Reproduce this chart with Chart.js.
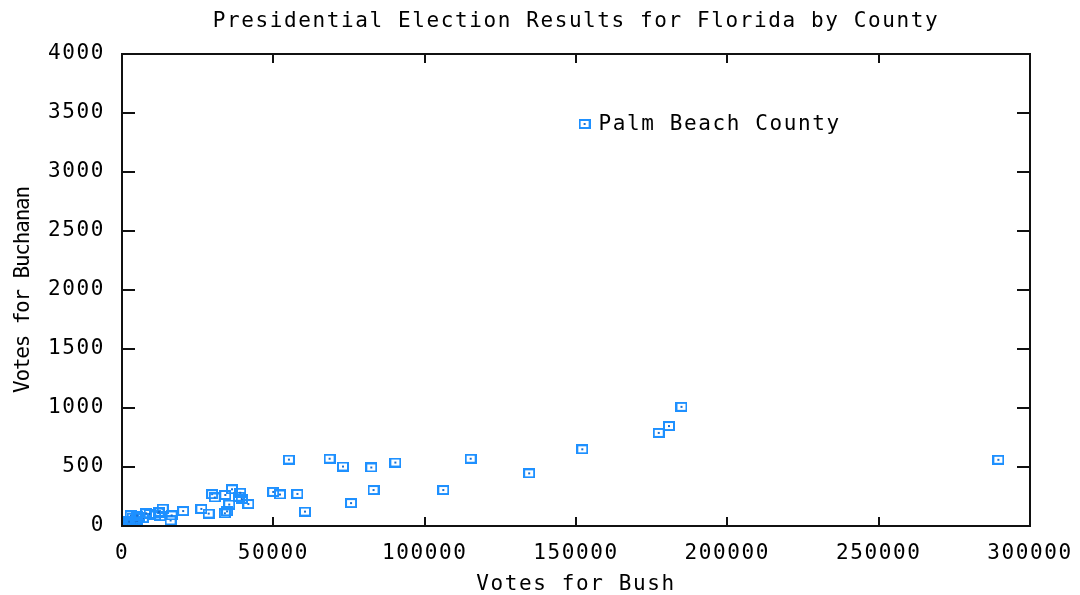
<!DOCTYPE html>
<html>
<head>
<meta charset="utf-8">
<script src="https://cdn.jsdelivr.net/npm/chart.js@4/dist/chart.umd.min.js"></script>
<style>
  html, body { margin: 0; padding: 0; background: #fff; }
  #wrap { width: 1080px; height: 595px; position: relative; }
</style>
</head>
<body>
<div id="wrap"><canvas id="c"></canvas></div>
<script>
// ---- Data (Florida 2000, by county) ----
const countyNames = ["Alachua","Baker","Bay","Bradford","Brevard","Broward","Calhoun","Charlotte","Citrus","Clay","Collier","Columbia","Dade","De Soto","Dixie","Duval","Escambia","Flagler","Franklin","Gadsden","Gilchrist","Glades","Gulf","Hamilton","Hardee","Hendry","Hernando","Highlands","Hillsborough","Holmes","Indian River","Jackson","Jefferson","Lafayette","Lake","Lee","Leon","Levy","Liberty","Madison","Manatee","Marion","Martin","Monroe","Nassau","Okaloosa","Okeechobee","Orange","Osceola","Palm Beach","Pasco","Pinellas","Polk","Putnam","St. Johns","St. Lucie","Santa Rosa","Sarasota","Seminole","Sumter","Suwannee","Taylor","Union","Volusia","Wakulla","Walton","Washington"];
const bushVotes = [34124,5610,38637,5414,115185,177323,2873,35426,29767,41736,60450,10964,289533,4256,2697,152082,73017,12613,2454,4767,3300,1841,3550,2146,3765,4747,30646,20206,180713,5011,28635,9138,2481,1669,49963,106141,39053,6858,1317,3038,57948,55135,33972,16059,16404,52186,5057,134517,26212,152846,68582,184846,90310,13457,39564,34705,36339,83100,75677,12127,8006,4051,2326,82357,4512,12182,4994];
const buchananVotes = [263,73,248,65,570,789,90,182,270,186,122,89,561,36,29,650,504,83,33,38,29,9,71,23,30,22,242,127,847,76,105,102,29,10,289,305,282,67,39,29,272,563,108,47,90,267,43,446,145,3407,570,1010,538,147,229,124,311,305,194,114,108,27,37,496,46,120,88];
const labelledCounty = "Palm Beach";
const labelText = "Palm Beach County";
const titleText = "Presidential Election Results for Florida by County";
const xTitle = "Votes for Bush";
const yTitle = "Votes for Buchanan";
const xTicks = { min: 0, max: 300000, step: 50000 };
const yTicks = { min: 0, max: 4000, step: 500 };

const points = bushVotes.map((b, i) => ({ x: b, y: buchananVotes[i] }));

const BLUE = '#1e90ff';
const FONT = "'DejaVu Sans Mono', 'Liberation Mono', monospace";
const FS = 21;
const SPACING = '1.6px';

function makeMarker() {
  const c = document.createElement('canvas');
  c.width = 12; c.height = 10;
  const g = c.getContext('2d');
  g.strokeStyle = BLUE;
  g.lineWidth = 2;
  g.strokeRect(1, 1, 10, 8);
  g.fillStyle = '#1a6fd0';
  g.fillRect(5, 4, 2, 2);
  return c;
}
const marker = makeMarker();

const spacingPlugin = {
  id: 'spacing',
  beforeUpdate(chart) { chart.ctx.letterSpacing = SPACING; },
  beforeLayout(chart) { chart.ctx.letterSpacing = SPACING; },
  beforeDraw(chart) { chart.ctx.letterSpacing = SPACING; },
  afterLayout(chart) {
    // centre the title over the plot area
    const tb = chart.titleBlock;
    if (tb) {
      tb.left = chart.chartArea.left;
      tb.right = chart.chartArea.right;
      tb.width = tb.right - tb.left;
    }
  },
  afterUpdate(chart) {
    const ys = chart.scales.y;
    if (ys && !ys._lsPatched) {
      const orig = ys.drawTitle;
      ys.drawTitle = function (...a) {
        const c = this.ctx;
        const prev = c.letterSpacing;
        c.letterSpacing = '-1.2px';
        orig.apply(this, a);
        c.letterSpacing = prev;
      };
      ys._lsPatched = true;
    }
  }
};

const framePlugin = {
  id: 'frame',
  afterDatasetsDraw(chart) {
    const { ctx, chartArea: a, scales } = chart;
    ctx.save();
    ctx.strokeStyle = '#111';
    ctx.lineWidth = 2;
    ctx.beginPath();
    scales.x.ticks.forEach(t => {
      const px = Math.round(scales.x.getPixelForValue(t.value));
      ctx.moveTo(px, a.bottom); ctx.lineTo(px, a.bottom - 9);
      ctx.moveTo(px, a.top); ctx.lineTo(px, a.top + 9);
    });
    scales.y.ticks.forEach(t => {
      const py = Math.round(scales.y.getPixelForValue(t.value));
      ctx.moveTo(a.left, py); ctx.lineTo(a.left + 13, py);
      ctx.moveTo(a.right, py); ctx.lineTo(a.right - 13, py);
    });
    ctx.stroke();
    ctx.strokeRect(a.left, a.top, a.right - a.left, a.bottom - a.top);
    ctx.restore();
  }
};

const labelPlugin = {
  id: 'pointLabel',
  afterDatasetsDraw(chart) {
    const idx = countyNames.indexOf(labelledCounty);
    const el = chart.getDatasetMeta(0).data[idx];
    if (!el) return;
    const ctx = chart.ctx;
    ctx.save();
    ctx.letterSpacing = SPACING;
    ctx.font = FS + "px " + FONT;
    ctx.fillStyle = '#000';
    ctx.textAlign = 'left';
    ctx.textBaseline = 'middle';
    ctx.fillText(labelText, el.x + 14, el.y + 1);
    ctx.restore();
  }
};

new Chart(document.getElementById('c'), {
  type: 'scatter',
  data: {
    datasets: [{
      label: 'Counties',
      data: points,
      pointStyle: marker,
      pointRadius: 5,
      borderColor: BLUE,
      backgroundColor: BLUE
    }]
  },
  options: {
    responsive: true,
    maintainAspectRatio: false,
    devicePixelRatio: 1,
    animation: false,
    layout: { padding: { left: 0, right: 50, top: 0, bottom: 0 } },
    plugins: {
      legend: { display: false },
      tooltip: { enabled: false },
      title: {
        display: true,
        text: titleText,
        color: '#000',
        font: { family: FONT, size: FS, weight: 'normal', lineHeight: 1.2 },
        padding: { top: 9.4, bottom: 19.4 }
      }
    },
    scales: {
      x: {
        type: 'linear',
        min: xTicks.min, max: xTicks.max,
        afterFit(s) { s.height = 69; s.paddingRight = 0; s.paddingLeft = 0; },
        grid: { display: false, drawTicks: false },
        border: { display: false },
        ticks: {
          stepSize: xTicks.step,
          color: '#000',
          padding: 15,
          maxRotation: 0,
          font: { family: FONT, size: FS },
          callback: v => String(v)
        },
        title: {
          display: true, text: xTitle, color: '#000',
          font: { family: FONT, size: FS, lineHeight: 1.0 },
          padding: 0
        }
      },
      y: {
        type: 'linear',
        min: yTicks.min, max: yTicks.max,
        afterFit(s) { s.width = 122; },
        grid: { display: false, drawTicks: false },
        border: { display: false },
        ticks: {
          stepSize: yTicks.step,
          color: '#000',
          padding: 17,
          font: { family: FONT, size: FS },
          callback: v => String(v)
        },
        title: {
          display: true, text: yTitle, color: '#000',
          font: { family: FONT, size: FS, lineHeight: 1.2 },
          padding: 10.5
        }
      }
    }
  },
  plugins: [spacingPlugin, framePlugin, labelPlugin]
});
</script>
</body>
</html>
